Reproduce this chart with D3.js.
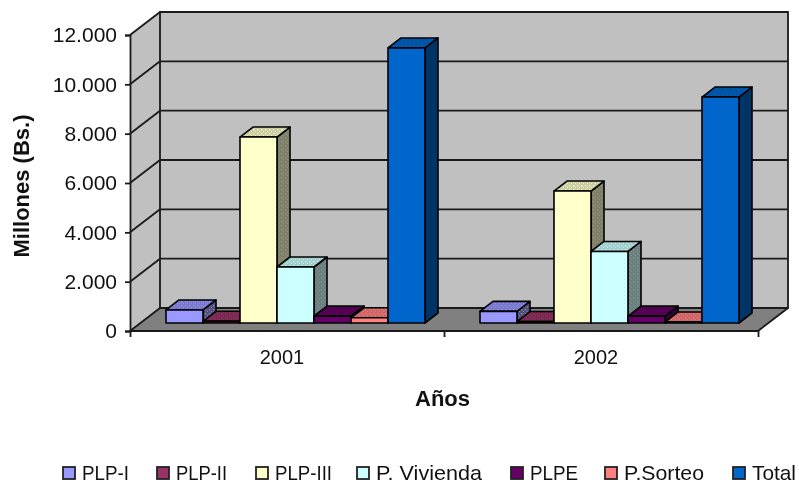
<!DOCTYPE html>
<html>
<head>
<meta charset="utf-8">
<script src="https://cdn.jsdelivr.net/npm/d3@7"></script>
<style>
  html, body { margin: 0; padding: 0; background: #fff; }
  svg { display: block; filter: blur(0.4px); }
  text { font-family: "Liberation Sans", Arial, sans-serif; fill: #111; }
</style>
</head>
<body>
<svg id="chart" width="799" height="483"></svg>
<script>
const years = ['2001', '2002']
const seriesNames = ['PLP-I', 'PLP-II', 'PLP-III', 'P. Vivienda', 'PLPE', 'P.Sorteo', 'Total']
const values2001 = [530, 70, 7540, 2270, 280, 210, 11150]
const values2002 = [470, 60, 5350, 2900, 280, 40, 9160]
const yTicks = [0, 2000, 4000, 6000, 8000, 10000, 12000]
const seriesColors = ['#9999ff', '#993366', '#ffffcc', '#ccffff', '#660066', '#ff8080', '#0066cc']

// legend layout
const legendStarts = [63, 157, 256, 357, 511, 605, 733]
const legendWidths = [47, 51, 57, 106, 48, 80, 44]

const valuesByYear = { 2001: values2001, 2002: values2002 }

// depth of the box and of the bars, in pixels
const wallDx = 30, wallDy = -23
const barDx = 13, barDy = -10
const planeDx = 8, planeDy = -8

const svg = d3.select('#chart')
const lineColor = '#1a1a1a'

const x0 = d3.scaleBand().domain(years).range([130, 758])
const x1 = d3.scaleBand().domain(seriesNames)
  .range([28, x0.bandwidth() - 27]).paddingInner(0).paddingOuter(0)
const y = d3.scaleLinear().domain([0, 12000]).range([331, 35])

const pts = (arr) => arr.map((p) => p.join(',')).join(' ')

// dithered fills for the top and side faces of each bar
const defs = svg.append('defs')
function addDither(id, base, dot) {
  const p = defs.append('pattern').attr('id', id)
    .attr('patternUnits', 'userSpaceOnUse').attr('width', 4).attr('height', 4)
  p.append('rect').attr('width', 4).attr('height', 4).attr('fill', base)
  p.append('rect').attr('x', 1).attr('y', 1).attr('width', 1.4).attr('height', 1.4).attr('fill', dot)
  p.append('rect').attr('x', 3).attr('y', 3).attr('width', 1.4).attr('height', 1.4).attr('fill', dot)
}
const darkSeries = [1, 4, 6]
seriesColors.forEach((c, i) => {
  const rgb = d3.rgb(c)
  const top = d3.rgb(rgb.r * 0.8, rgb.g * 0.8, rgb.b * 0.8)
  const side = d3.rgb(rgb.r * 0.5, rgb.g * 0.5, rgb.b * 0.5)
  const dark = darkSeries.includes(i)
  addDither('top' + i, top.formatHex(), d3.rgb(rgb.r * 0.95, rgb.g * 0.95, rgb.b * 0.95).formatHex())
  addDither('side' + i, side.formatHex(), dark ? side.formatHex() : '#8f8f8f')
})

// walls and floor
const xLeft = 130, xRight = 758
svg.append('polygon').attr('fill', '#c0c0c0')
  .attr('points', pts([[xLeft, y(0)], [xLeft, y(12000)], [xLeft + wallDx, y(12000) + wallDy], [xLeft + wallDx, y(0) + wallDy]]))
svg.append('polygon').attr('fill', '#c0c0c0').attr('stroke', lineColor).attr('stroke-width', 1.8)
  .attr('points', pts([[xLeft + wallDx, y(12000) + wallDy], [xRight + wallDx, y(12000) + wallDy], [xRight + wallDx, y(0) + wallDy], [xLeft + wallDx, y(0) + wallDy]]))
svg.append('polygon').attr('fill', '#808080')
  .attr('points', pts([[xLeft, y(0)], [xRight, y(0)], [xRight + wallDx, y(0) + wallDy], [xLeft + wallDx, y(0) + wallDy]]))

// gridlines on the back wall and the left wall
const grid = svg.append('g').attr('fill', 'none').attr('stroke', lineColor).attr('stroke-width', 1.8)
grid.selectAll('.back').data(yTicks).enter().append('line')
  .attr('class', 'back')
  .attr('x1', xLeft + wallDx).attr('x2', xRight + wallDx)
  .attr('y1', (d) => y(d) + wallDy).attr('y2', (d) => y(d) + wallDy)
grid.selectAll('.side').data(yTicks).enter().append('line')
  .attr('class', 'side')
  .attr('x1', xLeft).attr('x2', xLeft + wallDx)
  .attr('y1', (d) => y(d)).attr('y2', (d) => y(d) + wallDy)
grid.append('line').attr('x1', xRight).attr('x2', xRight + wallDx)
  .attr('y1', y(0)).attr('y2', y(0) + wallDy)

// bars, left to right so that each front covers the previous side face
const barData = years.flatMap((yr) => seriesNames.map((name, i) => ({ yr, name, i, v: valuesByYear[yr][i] })))
const bars = svg.selectAll('.bar').data(barData).enter().append('g').attr('class', 'bar')
  .attr('stroke', '#000').attr('stroke-width', 1.6).attr('stroke-linejoin', 'round')
const bx = (d) => x0(d.yr) + x1(d.name) + planeDx
const by = (d) => y(d.v) + planeDy
const bb = () => y(0) + planeDy

bars.append('polygon').attr('fill', (d) => `url(#side${d.i})`)
  .attr('points', (d) => {
    const r = bx(d) + x1.bandwidth()
    return pts([[r, by(d)], [r + barDx, by(d) + barDy], [r + barDx, bb() + barDy], [r, bb()]])
  })
bars.append('polygon').attr('fill', (d) => `url(#top${d.i})`)
  .attr('points', (d) => {
    const l = bx(d), r = l + x1.bandwidth()
    return pts([[l, by(d)], [l + barDx, by(d) + barDy], [r + barDx, by(d) + barDy], [r, by(d)]])
  })
bars.append('rect').attr('fill', (d) => seriesColors[d.i])
  .attr('x', bx).attr('y', by)
  .attr('width', x1.bandwidth())
  .attr('height', (d) => bb() - by(d))

// axes
const locale = d3.formatLocale({ decimal: ',', thousands: '.', grouping: [3], currency: ['', ''] })
const yAxis = d3.axisLeft(y).tickValues(yTicks).tickFormat(locale.format(',')).tickSize(5).tickPadding(8)
const gy = svg.append('g').attr('transform', `translate(${xLeft},0)`).call(yAxis)
gy.selectAll('text').attr('font-size', 21)
gy.selectAll('line, path').attr('stroke', lineColor).attr('stroke-width', 1.8)

const xScaleTicks = d3.scalePoint().domain(['a', 'b', 'c']).range([xLeft, xRight])
const gxTicks = svg.append('g').attr('transform', `translate(0,${y(0)})`)
  .call(d3.axisBottom(xScaleTicks).tickSize(6).tickFormat(''))
gxTicks.selectAll('line, path').attr('stroke', lineColor).attr('stroke-width', 1.8)
gxTicks.select('path').attr('d', `M${xLeft},0H${xRight}`)

svg.selectAll('.year').data(years).enter().append('text')
  .attr('class', 'year')
  .attr('x', (d) => x0(d) + x0.bandwidth() / 2 - 5)
  .attr('y', 364).attr('text-anchor', 'middle').attr('font-size', 20)
  .text((d) => d)

svg.append('text').attr('transform', 'translate(29,186) rotate(-90)')
  .attr('text-anchor', 'middle').attr('font-size', 22).attr('font-weight', 'bold')
  .text('Millones (Bs.)')
svg.append('text').attr('x', 442.5).attr('y', 406)
  .attr('text-anchor', 'middle').attr('font-size', 22).attr('font-weight', 'bold')
  .text('Años')

// legend
const legend = svg.selectAll('.legend').data(seriesNames).enter().append('g')
  .attr('class', 'legend')
  .attr('transform', (d, i) => `translate(${legendStarts[i]},467)`)
legend.append('rect').attr('width', 12).attr('height', 12)
  .attr('fill', (d, i) => seriesColors[i]).attr('stroke', '#222').attr('stroke-width', 1.8)
legend.append('text').attr('x', 19).attr('y', 13).attr('font-size', 21)
  .attr('textLength', (d, i) => legendWidths[i]).attr('lengthAdjust', 'spacingAndGlyphs')
  .text((d) => d)
</script>
</body>
</html>
